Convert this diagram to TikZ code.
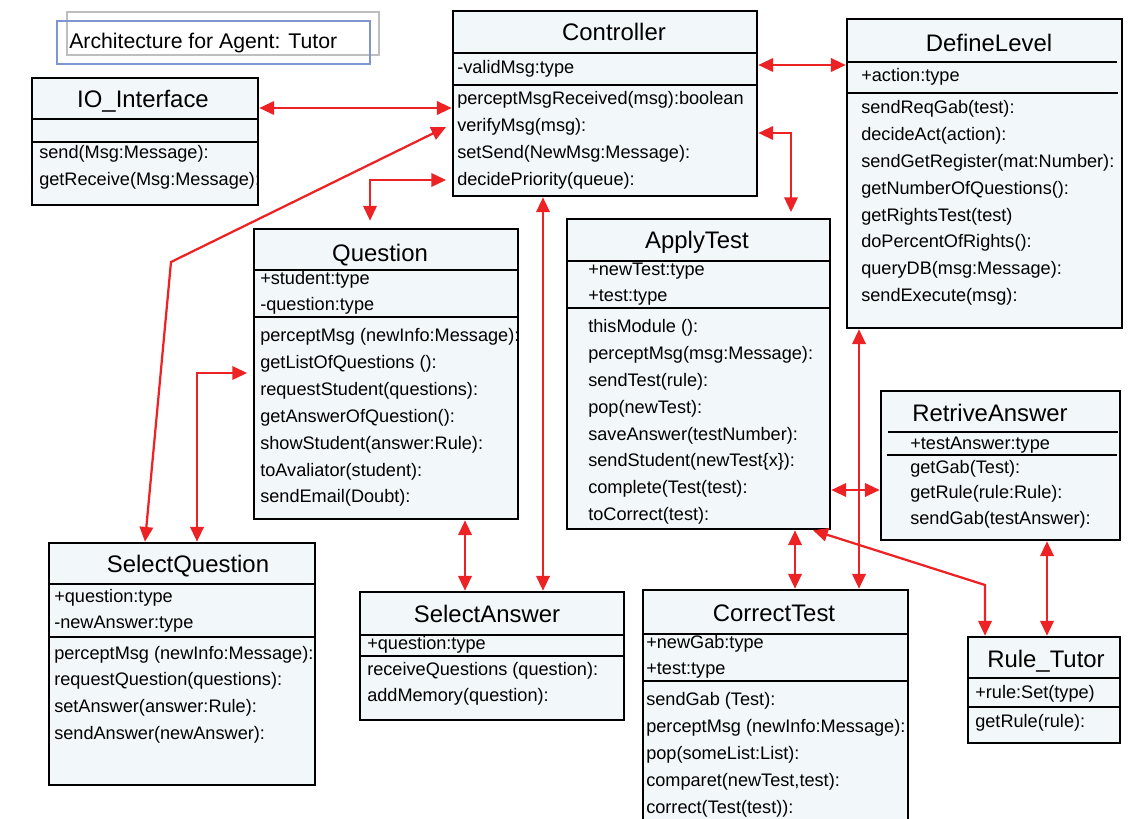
\documentclass[tikz,border=0pt]{standalone}
\usepackage{fontspec}
\setmainfont{Liberation Sans}
\usetikzlibrary{arrows.meta, fit}

\definecolor{boxfill}{RGB}{242,247,250}
\definecolor{linkred}{RGB}{237,34,36}
\definecolor{framegrey}{RGB}{190,190,190}
\definecolor{frameblue}{RGB}{125,150,210}

\tikzset{
    classframe/.style={draw, line width=1.8pt, fill=boxfill, inner sep=0pt},
    classname/.style={font=\fontsize{17}{20}\selectfont, anchor=base, inner sep=0pt},
    fields/.style={font=\fontsize{12.9}{18.1}\selectfont, align=left, anchor=base west, inner sep=0pt},
    methods/.style={font=\fontsize{12.9}{19.06}\selectfont, align=left, anchor=base west, inner sep=0pt},
    divider/.style={line width=1.5pt},
    link/.style={draw=linkred, line width=1.6pt, {Triangle[length=10.5pt,width=9.5pt]}-{Triangle[length=10.5pt,width=9.5pt]}},
}

\begin{document}
\begin{tikzpicture}[x=0.025cm, y=-0.025cm]
        \useasboundingbox (0, 0) rectangle (1142, 819);

        % title (text nodes sit on the baseline of their last line)
        \draw[framegrey, line width=1pt] (67, 12) rectangle (379, 55);
        \draw[frameblue, line width=1pt] (57, 21) rectangle (370, 64);
        \node[font=\fontsize{15.1}{18}\selectfont, anchor=base west, inner sep=0pt] (heading) at (69, 48.6) {Architecture for Agent: Tutor};

        % classes
        \node[classframe, fit={(32, 78) (258, 205)}] (io) {};
        \draw[divider] (32, 119) -- (258, 119);
        \draw[divider] (32, 142) -- (258, 142);
        \node[classname] at (143, 107.5) {IO\_Interface};
        \node[methods] at (39, 185.8) {send(Msg:Message):\\getReceive(Msg:Message):};

        \node[classframe, fit={(453, 11) (757, 196)}] (ctrl) {};
        \draw[divider] (453, 53) -- (757, 53);
        \draw[divider] (453, 85) -- (757, 85);
        \node[classname] at (614, 40.5) {Controller};
        \node[fields] at (457, 74) {-validMsg:type};
        \node[methods] at (457, 185.4) {perceptMsgReceived(msg):boolean\\verifyMsg(msg):\\setSend(NewMsg:Message):\\decidePriority(queue):};

        \node[classframe, fit={(847, 19) (1122, 328)}] (deflvl) {};
        \draw[divider] (846, 62) -- (1117, 62);
        \draw[divider] (846, 93) -- (1118, 93);
        \node[classname] at (989, 51.5) {DefineLevel};
        \node[fields] at (861, 82) {+action:type};
        \node[methods] at (861, 301.6) {sendReqGab(test):\\decideAct(action):\\sendGetRegister(mat:Number):\\getNumberOfQuestions():\\getRightsTest(test)\\doPercentOfRights():\\queryDB(msg:Message):\\sendExecute(msg):};

        \node[classframe, fit={(254, 229) (518, 519)}] (quest) {};
        \draw[divider] (254, 270) -- (518, 270);
        \draw[divider] (254, 317) -- (518, 317);
        \node[classname] at (380, 261.5) {Question};
        \node[fields] at (260, 310.4) {+student:type\\-question:type};
        \node[methods] at (260, 502.8) {perceptMsg (newInfo:Message):\\getListOfQuestions ():\\requestStudent(questions):\\getAnswerOfQuestion():\\showStudent(answer:Rule):\\toAvaliator(student):\\sendEmail(Doubt):};

        \node[classframe, fit={(567, 219) (830, 529)}] (apply) {};
        \draw[divider] (567, 261) -- (830, 261);
        \draw[divider] (567, 308) -- (830, 308);
        \node[classname] at (697, 248.5) {ApplyTest};
        \node[fields] at (588, 301.4) {+newTest:type\\+test:type};
        \node[methods] at (588, 520.6) {thisModule ():\\perceptMsg(msg:Message):\\sendTest(rule):\\pop(newTest):\\saveAnswer(testNumber):\\sendStudent(newTest\{x\}):\\complete(Test(test):\\toCorrect(test):};

        \node[classframe, fit={(881, 391) (1120, 540)}] (retr) {};
        \draw[divider] (888, 432) -- (1118, 432);
        \draw[divider] (887, 455) -- (1117, 455);
        \node[classname] at (990, 421.5) {RetriveAnswer};
        \node[fields] at (910, 449) {+testAnswer:type};
        \node[methods, font=\fontsize{12.9}{17.8}\selectfont] at (910, 524) {getGab(Test):\\getRule(rule:Rule):\\sendGab(testAnswer):};

        \node[classframe, fit={(968, 637) (1120, 743)}] (rule) {};
        \draw[divider] (968, 678) -- (1120, 678);
        \draw[divider] (968, 707) -- (1120, 707);
        \node[classname] at (1046, 667.5) {Rule\_Tutor};
        \node[fields] at (975, 698) {+rule:Set(type)};
        \node[methods] at (975, 727) {getRule(rule):};

        \node[classframe, fit={(49, 543) (315, 785)}] (selq) {};
        \draw[divider] (49, 584) -- (315, 584);
        \draw[divider] (49, 637) -- (315, 637);
        \node[classname] at (188, 572.5) {SelectQuestion};
        \node[fields] at (54, 628.4) {+question:type\\-newAnswer:type};
        \node[methods] at (54, 739.4) {perceptMsg (newInfo:Message):\\requestQuestion(questions):\\setAnswer(answer:Rule):\\sendAnswer(newAnswer):};

        \node[classframe, fit={(360, 592) (624, 720)}] (sela) {};
        \draw[divider] (360, 635) -- (624, 635);
        \draw[divider] (360, 656) -- (624, 656);
        \node[classname] at (487, 622.5) {SelectAnswer};
        \node[fields] at (367, 649) {+question:type};
        \node[methods] at (367, 701.8) {receiveQuestions (question):\\addMemory(question):};

        \node[classframe, fit={(643, 590) (908, 840)}] (corr) {};
        \draw[divider] (643, 634) -- (908, 634);
        \draw[divider] (643, 681) -- (908, 681);
        \node[classname] at (774, 621.5) {CorrectTest};
        \node[fields] at (646, 674.4) {+newGab:type\\+test:type};
        \node[methods] at (646, 813.2) {sendGab (Test):\\perceptMsg (newInfo:Message):\\pop(someList:List):\\comparet(newTest,test):\\correct(Test(test)):};

        % connectors
        \coordinate (selqbend) at (171, 262);
        \coordinate (rulebend) at (985, 585);

        \draw[link] (io.east |- 0, 108) -- (ctrl.west |- 0, 108);
        \draw[link] (ctrl.east |- 0, 65) -- (deflvl.west |- 0, 65);
        \draw[link] (selq.north -| 145, 0) -- (selqbend) -- ([xshift=-4pt]ctrl.west |- 0, 127);
        \draw[link, shorten <=4pt, shorten >=5pt] (ctrl.west |- 0, 180) -| (quest.north -| 370, 0);
        \draw[link, shorten <=4pt] (quest.west |- 0, 373) -| (selq.north -| 197, 0);
        \draw[link] (quest.south -| 465, 0) -- (sela.north -| 465, 0);
        \draw[link] (ctrl.south -| 543, 0) -- (sela.north -| 543, 0);
        \draw[link, shorten >=4pt] (ctrl.east |- 0, 133) -| (apply.north -| 791, 0);
        \draw[link] (apply.east |- 0, 490) -- (retr.west |- 0, 490);
        \draw[link] (deflvl.south -| 859, 0) -- (corr.north -| 859, 0);
        \draw[link] (apply.south -| 795, 0) -- (corr.north -| 795, 0);
        \draw[link] (apply.south -| 813, 0) -- (rulebend) -- (rule.north -| 985, 0);
        \draw[link] (retr.south -| 1047, 0) -- (rule.north -| 1047, 0);
    \end{tikzpicture}
\end{document}
